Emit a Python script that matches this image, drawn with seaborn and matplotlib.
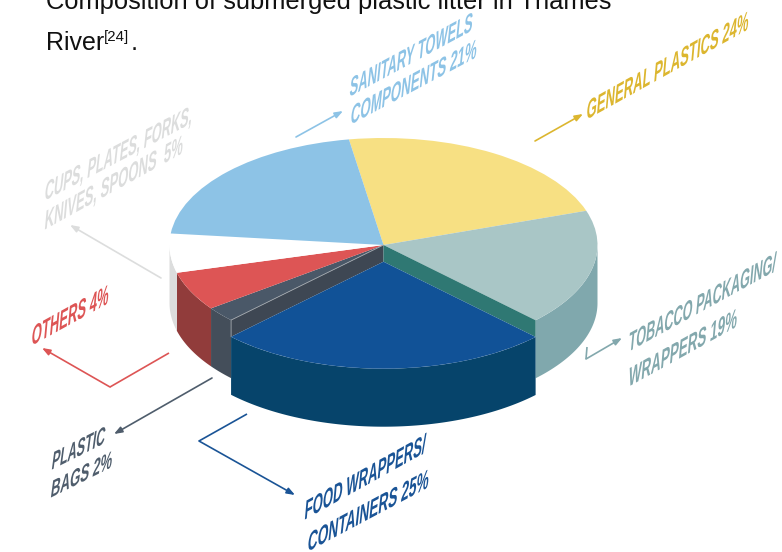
import numpy as np
import matplotlib
matplotlib.use("Agg")
import matplotlib.pyplot as plt
import matplotlib.patheffects as pe
from matplotlib.font_manager import FontProperties
from matplotlib.textpath import TextPath
from matplotlib.transforms import Affine2D
import seaborn as sns

categories = ["General plastics", "Tobacco packaging/wrappers", "Food wrappers/containers",
              "Plastic bags", "Others", "Cups, plates, forks, knives, spoons", "Sanitary towels components"]
slice_shares = [22.4, 17.6, 25.2, 2.3, 5.9, 5.9, 20.7]
top_colors = ["#f7e083", "#a9c6c6", "#115297", "#4a5868", "#dd5555", "#ffffff", "#8dc3e6"]
wall_colors = ["#d9c26a", "#80a8ad", "#06446b", "#444e5a", "#913c3b", "#dcdddd", "#6fa5c8"]

W, H = 782, 552
CX, CY, RX, RY = 383.5, 245.0, 214.0, 107.0
DEPTH = 58.0 / RY
DROP = 16.7 / RY
FOOD = 2

sns.set_theme(style="white")
plt.rcParams["font.family"] = ["Liberation Sans", "DejaVu Sans"]

fig = plt.figure(figsize=(W / 100, H / 100), dpi=100, facecolor="white")
ax = fig.add_axes([0, 0, 1, 1])
wedges, _ = ax.pie(slice_shares, colors=top_colors, startangle=99.3, counterclock=False,
                   radius=1.0, center=(0, 0),
                   wedgeprops={"linewidth": 0.0, "zorder": 5})
ax.set_aspect("auto")
ax.set_xlim(-CX / RX, (W - CX) / RX)
ax.set_ylim((CY - H) / RY, CY / RY)
ax.axis("off")

for i, w in enumerate(wedges):
    t = np.radians(np.linspace(w.theta1, w.theta2, 200))
    t = t[np.sin(t) <= 0]
    if t.size < 2:
        continue
    off = DROP if i == FOOD else 0.0
    xs = np.r_[np.cos(t), np.cos(t)[::-1]]
    ys = np.r_[np.sin(t) - off, (np.sin(t) - off - DEPTH)[::-1]]
    ax.fill(xs, ys, color=wall_colors[i], lw=0, zorder=8 if i == FOOD else (3 if i != 3 else 4))

food = wedges[FOOD]
food.set_center((0, -DROP))
food.set_zorder(9)
a1, a2 = np.radians(food.theta1), np.radians(food.theta2)
# Exposed cut faces left by the lowered food-wrappers slice
for ang, col in ((a1, "#3e4753"), (a2, "#2f7873")):
    px, py = np.cos(ang), np.sin(ang)
    ax.fill([0, px, px, 0], [0, py, py - DROP, -DROP], color=col, lw=0, zorder=7)
left = a1 if np.cos(a1) < 0 else a2
ax.plot([0, np.cos(left), np.cos(left)], [0, np.sin(left), np.sin(left) - DROP],
        color="#a0a6ac", lw=0.6, zorder=7.5)

ov = fig.add_axes([0, 0, 1, 1], facecolor="none")
ov.set_xlim(0, W)
ov.set_ylim(H, 0)
ov.axis("off")


class Slanted(pe.AbstractPathEffect):
    """Stretches and shears the glyphs of a real text artist, for the isometric lettering."""

    def __init__(self, stretch, shear):
        super().__init__()
        self.m = Affine2D().scale(1, stretch).skew(np.arctan(shear), 0)

    def draw_path(self, renderer, gc, tpath, affine, rgbFace=None):
        renderer.draw_path(gc, tpath, self.m + affine, rgbFace)


def leader(points, color):
    pts = np.array(points, float)
    if len(pts) > 2:
        ov.plot(pts[:-1, 0], pts[:-1, 1], color=color, lw=1.2, solid_capstyle="butt", zorder=10)
    ov.annotate("", xy=pts[-1], xytext=pts[-2], zorder=10,
                arrowprops=dict(arrowstyle="-|>,head_width=0.15,head_length=0.4", color=color, lw=1.2,
                                shrinkA=0, shrinkB=0))


PROP = FontProperties(family="Liberation Sans", weight="bold")
CAP = 0.72


def label(start, end, text, color, height=16.5, shear=0.68):
    (x0, y0), (x1, y1) = start, end
    length = np.hypot(x1 - x0, y1 - y0)
    rot = np.degrees(np.arctan2(y0 - y1, x1 - x0))
    em_w = TextPath((0, 0), text, size=1, prop=PROP).get_extents().width
    size_px = length / em_w
    size_pt = size_px * 72 / 100
    stretch = height / (CAP * size_px)
    ov.text(x0, y0, text, color=color, fontsize=size_pt, rotation=rot, rotation_mode="anchor",
            ha="left", va="baseline", family="Liberation Sans", fontweight="bold", zorder=11,
            path_effects=[Slanted(stretch, shear)])


C = {"gen": "#dcb62f", "san": "#8dc3e6", "cup": "#dcdddd", "oth": "#dd5555",
     "bag": "#4f5d6c", "foo": "#1a5496", "tob": "#83a8ad"}

leader([(296, 137), (343, 111)], C["san"])
leader([(535, 141), (583, 114)], C["gen"])
leader([(587, 347), (586, 359), (622, 338)], C["tob"])
leader([(247, 414), (199, 441), (295, 495)], C["foo"])
leader([(212, 378), (114, 434)], C["bag"])
leader([(169, 353), (110, 387), (42, 348)], C["oth"])
leader([(161, 278), (70, 225)], C["cup"])

label((586, 120), (747, 30), "GENERAL PLASTICS 24%", C["gen"])
label((349, 97), (471, 31), "SANITARY TOWELS", C["san"])
label((350, 125), (475, 58), "COMPONENTS 21%", C["san"])
label((44, 201), (190, 124), "CUPS, PLATES, FORKS,", C["cup"])
label((44, 230), (181, 154), "KNIVES, SPOONS  5%", C["cup"])
label((31, 346), (107, 304), "OTHERS 4%", C["oth"], height=17)
label((51, 470), (103, 444), "PLASTIC", C["bag"], height=15.5)
label((50, 498), (110, 468), "BAGS 2%", C["bag"], height=15)
label((304, 520), (424, 453), "FOOD WRAPPERS/", C["foo"])
label((307, 552), (427, 488), "CONTAINERS 25%", C["foo"])
label((628, 352), (775, 271), "TOBACCO PACKAGING/", C["tob"])
label((628, 387), (736, 327), "WRAPPERS 19%", C["tob"])

ov.text(46, 9.5, "Composition of submerged plastic litter in Thames", color="#111111", fontsize=18.4,
        ha="left", va="baseline")
ov.text(46, 49.5, "River", color="#111111", fontsize=18.0, ha="left", va="baseline")
ov.text(103.5, 40.5, "[24]", color="#111111", fontsize=10.8, ha="left", va="baseline")
ov.text(130.5, 49.5, ".", color="#111111", fontsize=18.4, ha="left", va="baseline")

fig.savefig("out.png", dpi=100, facecolor="white")
